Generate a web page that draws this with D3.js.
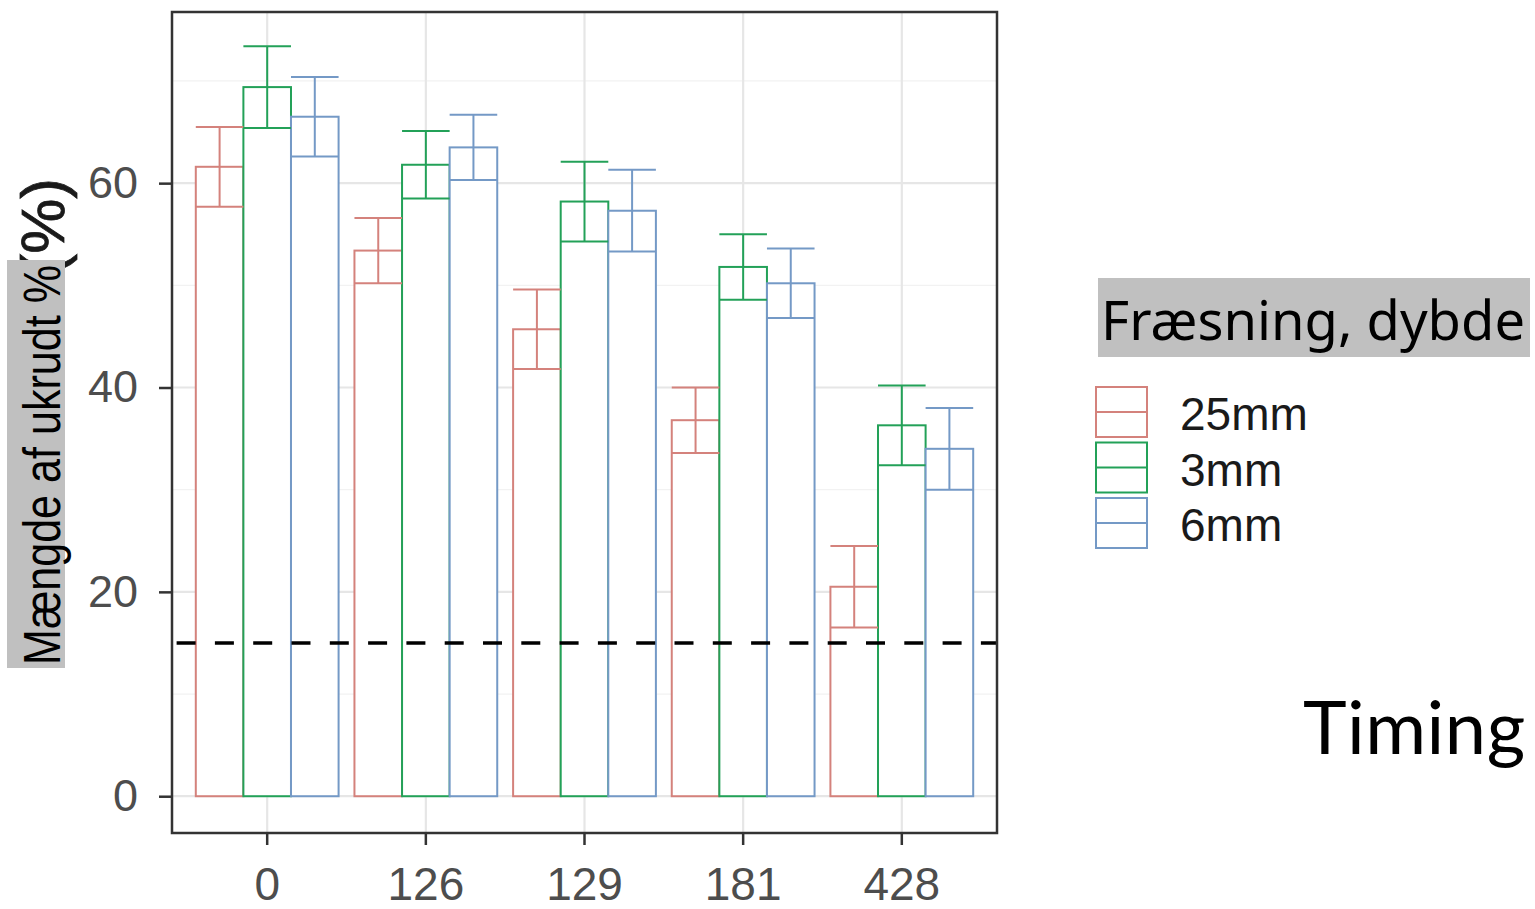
<!DOCTYPE html>
<html><head><meta charset="utf-8">
<script src="https://cdn.jsdelivr.net/npm/d3@7"></script>
<style>html,body{margin:0;padding:0;background:#fff;}svg{display:block;}</style>
</head><body>
<script>
const timings = ["0","126","129","181","428"];
const depths = ["25mm","3mm","6mm"];
const mean25 = [61.6, 53.4, 45.7, 36.8, 20.5];
const mean3  = [69.4, 61.8, 58.2, 51.8, 36.3];
const mean6  = [66.5, 63.5, 57.3, 50.2, 34.0];
const se25 = [3.9, 3.2, 3.9, 3.2, 4.0];
const se3  = [4.0, 3.3, 3.9, 3.2, 3.9];
const se6  = [3.9, 3.2, 4.0, 3.4, 4.0];
const yTicks = [0, 20, 40, 60];
const yMinor = [10, 30, 50, 70];
const threshold = 15;
const yLabel = "Mængde af ukrudt %";
const legendTitle = "Fræsning, dybde";
const xTitle = "Timing";

const colors = {"25mm":"#d4827c","3mm":"#23a158","6mm":"#7499c6"};
const means = {"25mm":mean25,"3mm":mean3,"6mm":mean6};
const ses = {"25mm":se25,"3mm":se3,"6mm":se6};

const W = 1535, H = 909;
const P = {l:172, r:997, t:12, b:833};
const svg = d3.select("body").append("svg").attr("width",W).attr("height",H);

const x = d3.scaleBand().domain(timings).range([P.l,P.r]).paddingInner(0.1).paddingOuter(0.15);
const xs = d3.scaleBand().domain(depths).range([0,x.bandwidth()]).padding(0);
const y = d3.scaleLinear().domain([-3.6,76.75]).range([P.b,P.t]);

// grid
const g = svg.append("g");
g.selectAll(".ymin").data(yMinor).join("line")
 .attr("x1",P.l).attr("x2",P.r).attr("y1",d=>y(d)).attr("y2",d=>y(d))
 .attr("stroke","#f2f2f2").attr("stroke-width",1.2);
g.selectAll(".ymaj").data(yTicks).join("line")
 .attr("x1",P.l).attr("x2",P.r).attr("y1",d=>y(d)).attr("y2",d=>y(d))
 .attr("stroke","#e6e6e6").attr("stroke-width",2.2);
g.selectAll(".xmaj").data(timings).join("line")
 .attr("x1",d=>x(d)+x.bandwidth()/2).attr("x2",d=>x(d)+x.bandwidth()/2).attr("y1",P.t).attr("y2",P.b)
 .attr("stroke","#e6e6e6").attr("stroke-width",2.2);

// bars
const rows = [];
timings.forEach((t,i)=>depths.forEach(dp=>rows.push({t,dp,m:means[dp][i],s:ses[dp][i]})));
const bars = svg.append("g");
bars.selectAll("rect").data(rows).join("rect")
 .attr("x",d=>x(d.t)+xs(d.dp)).attr("width",xs.bandwidth())
 .attr("y",d=>y(d.m)).attr("height",d=>y(0)-y(d.m))
 .attr("fill","#fff").attr("stroke",d=>colors[d.dp]).attr("stroke-width",2);
const eb = svg.append("g");
rows.forEach(d=>{
  const x0 = x(d.t)+xs(d.dp), x1 = x0+xs.bandwidth(), xc=(x0+x1)/2;
  const c = colors[d.dp];
  eb.append("line").attr("x1",xc).attr("x2",xc).attr("y1",y(d.m-d.s)).attr("y2",y(d.m+d.s)).attr("stroke",c).attr("stroke-width",2);
  eb.append("line").attr("x1",x0).attr("x2",x1).attr("y1",y(d.m-d.s)).attr("y2",y(d.m-d.s)).attr("stroke",c).attr("stroke-width",2);
  eb.append("line").attr("x1",x0).attr("x2",x1).attr("y1",y(d.m+d.s)).attr("y2",y(d.m+d.s)).attr("stroke",c).attr("stroke-width",2);
});

// threshold
svg.append("line").attr("x1",P.l).attr("x2",P.r).attr("y1",y(threshold)).attr("y2",y(threshold))
 .attr("stroke","#000").attr("stroke-width",3.5).attr("stroke-dasharray","19 19.3").attr("stroke-dashoffset",33.7);

// panel border
svg.append("rect").attr("x",P.l).attr("y",P.t).attr("width",P.r-P.l).attr("height",P.b-P.t)
 .attr("fill","none").attr("stroke","#333").attr("stroke-width",2.5);

// axes
const ya = svg.append("g").attr("transform",`translate(${P.l},0)`)
 .call(d3.axisLeft(y).tickValues(yTicks).tickSize(13).tickPadding(21));
const xa = svg.append("g").attr("transform",`translate(0,${P.b})`)
 .call(d3.axisBottom(x).tickSize(12).tickPadding(22));
[ya,xa].forEach(a=>{
  a.select(".domain").remove();
  a.selectAll(".tick line").attr("stroke","#333").attr("stroke-width",2.5);
  a.selectAll(".tick text").attr("fill","#4d4d4d").attr("font-family","Liberation Sans, Arial, sans-serif");
});
ya.selectAll(".tick text").attr("font-size",45);
xa.selectAll(".tick text").attr("font-size",46);

// y label (covered original + grey box)
svg.append("text").attr("transform","translate(64,178) rotate(-90)")
 .attr("text-anchor","end").attr("font-family","Liberation Sans, Arial, sans-serif")
 .attr("font-size",62).attr("fill","#1a1a1a").attr("stroke","#1a1a1a").attr("stroke-width",0.8).text("(%)");
svg.append("rect").attr("x",7).attr("y",260).attr("width",58).attr("height",408).attr("fill","#c0c0c0");
svg.append("text").attr("transform","translate(60,665) rotate(-90)")
 .attr("font-family","Liberation Sans, Arial, sans-serif").attr("font-size",52).attr("fill","#000")
 .attr("textLength",400).attr("lengthAdjust","spacingAndGlyphs").text(yLabel);

// legend
svg.append("rect").attr("x",1098).attr("y",278).attr("width",432).attr("height",79).attr("fill","#c0c0c0");
svg.append("text").attr("x",1101).attr("y",340).attr("font-family","Noto Sans, Open Sans, sans-serif")
 .attr("font-size",54).attr("fill","#000").attr("textLength",424).attr("lengthAdjust","spacingAndGlyphs").text(legendTitle);
const lg = svg.append("g").attr("transform","translate(1096,387)");
depths.forEach((dp,i)=>{
  const gy = i*55.5;
  lg.append("rect").attr("x",0).attr("y",gy).attr("width",51).attr("height",50)
    .attr("fill","#fff").attr("stroke",colors[dp]).attr("stroke-width",2);
  lg.append("line").attr("x1",0).attr("x2",51).attr("y1",gy+25).attr("y2",gy+25)
    .attr("stroke",colors[dp]).attr("stroke-width",2);
  lg.append("text").attr("x",84).attr("y",gy+43).attr("font-family","Liberation Sans, Arial, sans-serif")
    .attr("font-size",46).attr("fill","#1a1a1a").text(dp);
});

// x title
svg.append("text").attr("x",1303).attr("y",754).attr("font-family","Lato, sans-serif")
 .attr("font-size",74).attr("letter-spacing",0.5).attr("fill","#000").text(xTitle);
</script>
</body></html>
